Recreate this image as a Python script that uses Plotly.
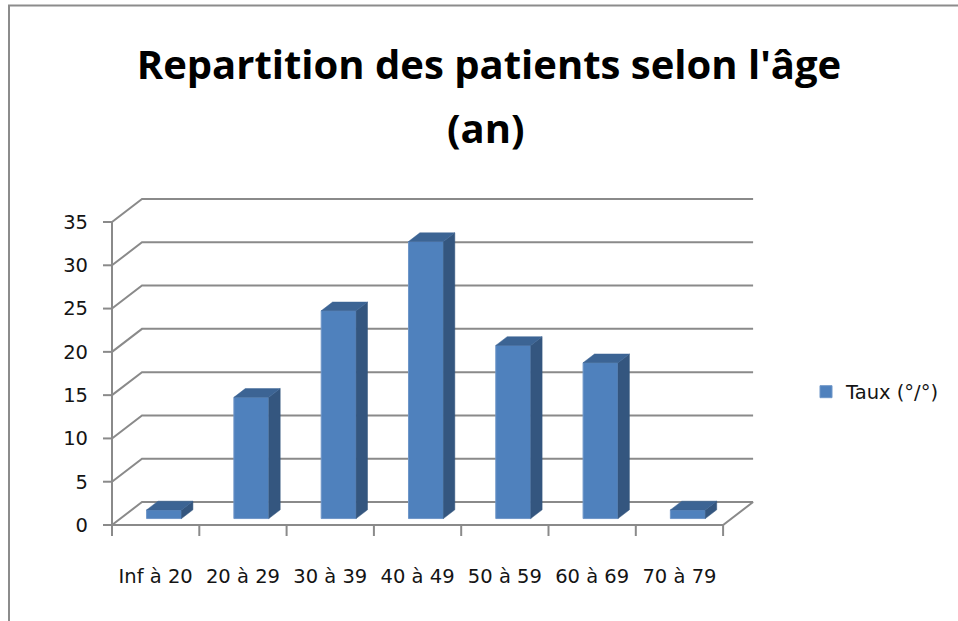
import plotly.graph_objects as go

# ---------------- data ----------------
categories = ["Inf à 20", "20 à 29", "30 à 39", "40 à 49", "50 à 59", "60 à 69", "70 à 79"]
taux = [1, 14, 24, 32, 20, 18, 1]
y_ticks = [0, 5, 10, 15, 20, 25, 30, 35]
series_name = "Taux (°/°)"
title_line1 = "Repartition des patients selon l'âge"
title_line2 = "(an)"

# ---------------- geometry / style ----------------
W, H = 958, 621
ML, MR, MT, MB = 101, 200, 193, 83
plot_w, plot_h = W - ML - MR, H - MT - MB
cat_px = 87.3          # pixels per category
unit_px = 8.657        # pixels per value unit
front_left_px = 112    # pixel of first category boundary
floor_px = 525         # pixel of value 0 (front)

DX = 30 / cat_px       # full depth offset in x units
DY = 23 / unit_px      # full depth offset in y units
n = len(categories)
xl, xr = -0.5, n - 0.5

x0 = xl - (front_left_px - ML) / cat_px
y0 = -((H - MB) - floor_px) / unit_px
x_range = [x0, x0 + plot_w / cat_px]
y_range = [y0, y0 + plot_h / unit_px]

bar_w = 0.40
f_front, f_depth = 0.28, 0.38
bx, by = f_front * DX, f_front * DY
ddx, ddy = f_depth * DX, f_depth * DY

grid_col = "#8A8A8A"
front_col = "#4F81BD"
side_col = "#34567F"
top_col = "#3C6494"
label_font = dict(family="DejaVu Sans", size=19.5, color="#141414")
title_font = dict(family="Open Sans", size=40, color="black", weight="bold")

fig = go.Figure()

# ---------------- walls, floor, gridlines (shapes below traces) ----------------
shapes = []
for v in y_ticks:
    path = f"M {xl},{v} L {xl + DX},{v + DY} L {xr + DX},{v + DY}"
    shapes.append(dict(type="path", path=path, xref="x", yref="y",
                       line=dict(color=grid_col, width=2), layer="below"))
# y axis line (front)
shapes.append(dict(type="line", xref="x", yref="y", x0=xl, y0=0, x1=xl, y1=max(y_ticks),
                   line=dict(color=grid_col, width=2), layer="below"))
# y ticks
tick_len_x = 9 / cat_px
for v in y_ticks:
    shapes.append(dict(type="line", xref="x", yref="y", x0=xl - tick_len_x, y0=v, x1=xl, y1=v,
                       line=dict(color=grid_col, width=2), layer="below"))
# floor front edge and right edge
shapes.append(dict(type="path", xref="x", yref="y",
                   path=f"M {xl},0 L {xr},0 L {xr + DX},{DY}",
                   line=dict(color=grid_col, width=2), layer="below"))
# x ticks at category boundaries
tick_len_y = 11 / unit_px
for i in range(n + 1):
    b = xl + i
    shapes.append(dict(type="line", xref="x", yref="y", x0=b, y0=0, x1=b, y1=-tick_len_y,
                       line=dict(color=grid_col, width=2), layer="below"))

# chart border
def px2paper_x(px):
    return (px - ML) / plot_w

def px2paper_y(py):
    return ((H - MB) - py) / plot_h

shapes.append(dict(type="rect", xref="paper", yref="paper",
                   x0=px2paper_x(9), x1=px2paper_x(970), y0=px2paper_y(635), y1=px2paper_y(5.5),
                   line=dict(color="#8C8C8C", width=2), fillcolor="rgba(0,0,0,0)", layer="below"))

# ---------------- bars ----------------
xs = [i + bx for i in range(n)]
fig.add_trace(go.Bar(
    x=xs, y=taux, base=[by] * n, width=bar_w,
    marker=dict(color=front_col, line=dict(color="#6F96C8", width=1)),
    name=series_name, showlegend=True, hoverinfo="skip",
))

side_x, side_y, top_x, top_y = [], [], [], []
for xc, v in zip(xs, taux):
    a, b = xc - bar_w / 2, xc + bar_w / 2
    t = by + v
    side_x += [b, b, b + ddx, b + ddx, b, None]
    side_y += [by, t, t + ddy, by + ddy, by, None]
    top_x += [a, b, b + ddx, a + ddx, a, None]
    top_y += [t, t, t + ddy, t + ddy, t, None]

fig.add_trace(go.Scatter(x=side_x, y=side_y, mode="lines", fill="toself",
                         fillcolor=side_col, line=dict(color=side_col, width=0.5),
                         showlegend=False, hoverinfo="skip"))
fig.add_trace(go.Scatter(x=top_x, y=top_y, mode="lines", fill="toself",
                         fillcolor=top_col, line=dict(color=top_col, width=0.5),
                         showlegend=False, hoverinfo="skip"))

# ---------------- layout ----------------
fig.update_layout(
    width=W, height=H,
    margin=dict(l=ML, r=MR, t=MT, b=MB, pad=0, autoexpand=False),
    paper_bgcolor="white", plot_bgcolor="white",
    shapes=shapes,
    title=dict(text=title_line1, x=489 / W, xref="container", xanchor="center",
               y=1 - 65 / H, yref="container", yanchor="middle", automargin=False,
               font=title_font),
    annotations=[dict(text=title_line2, x=px2paper_x(486), y=px2paper_y(127),
                      xref="paper", yref="paper", xanchor="center", yanchor="middle",
                      showarrow=False, font=title_font)],
    legend=dict(x=px2paper_x(806), y=px2paper_y(392), xanchor="left", yanchor="middle",
                font=label_font, bgcolor="rgba(0,0,0,0)"),
    xaxis=dict(range=x_range, tickmode="array", tickvals=list(range(n)), ticktext=categories,
               ticks="", showgrid=False, zeroline=False, showline=False, automargin=False,
               tickfont=label_font, ticklabelstandoff=24, fixedrange=True),
    yaxis=dict(range=y_range, tickmode="array", tickvals=y_ticks,
               ticks="", showgrid=False, zeroline=False, showline=False, automargin=False,
               tickfont=label_font, ticklabelstandoff=12, fixedrange=True),
    showlegend=True,
)

fig.write_html("out.html",
               config={"displayModeBar": False, "staticPlot": True},
               post_script="document.body.style.margin='0px';document.body.style.overflow='hidden';")
